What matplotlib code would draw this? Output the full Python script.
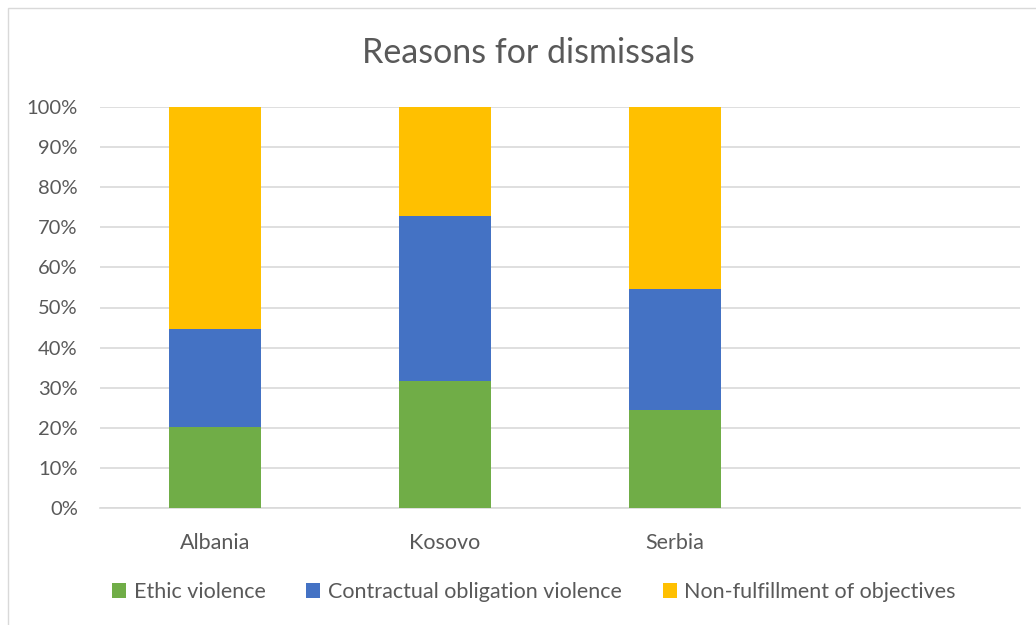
import matplotlib
matplotlib.use("Agg")
import matplotlib.pyplot as plt
from matplotlib.patches import Rectangle
import numpy as np

categories = ["Albania", "Kosovo", "Serbia", ""]
ethic = [20.1, 31.6, 24.4, 0]
contractual = [24.5, 41.3, 30.2, 0]
nonfulfil = [55.4, 27.1, 45.4, 0]
series_names = ["Ethic violence", "Contractual obligation violence", "Non-fulfillment of objectives"]
colors = ["#70AD47", "#4472C4", "#FFC000"]
yticks = [0, 10, 20, 30, 40, 50, 60, 70, 80, 90, 100]

plt.rcParams['font.family'] = ['Lato', 'DejaVu Sans']
fig = plt.figure(figsize=(10.36, 6.25), dpi=100)
ax = fig.add_axes([100/1036, 1-508/625, 920/1036, 401/625])

x = np.arange(len(categories))
bottom = np.zeros(len(categories))
for vals, name, c in zip([ethic, contractual, nonfulfil], series_names, colors):
    ax.bar(x, vals, 0.4, bottom=bottom, color=c, label=name, zorder=3)
    bottom += np.array(vals)

ax.set_xlim(-0.5, len(categories) - 0.5)
ax.set_ylim(0, 100)
ax.set_yticks(yticks)
ax.set_yticklabels([f"{t}%" for t in yticks])
ax.set_xticks(x)
ax.set_xticklabels(categories)
ax.grid(axis='y', color='#D9D9D9', linewidth=1.2, zorder=0)
for s in ['top', 'right', 'left']:
    ax.spines[s].set_visible(False)
ax.spines['bottom'].set_color('#D9D9D9')
ax.spines['bottom'].set_linewidth(1.2)
ax.tick_params(axis='both', length=0, colors='#595959')
ax.tick_params(axis='y', pad=16, labelsize=14.5)
ax.tick_params(axis='x', pad=18, labelsize=15.5)

fig.text(528/1036, 1-53/625, "Reasons for dismissals", ha='center', va='center',
         fontsize=24.5, color='#595959')

leg = fig.legend(loc='center', bbox_to_anchor=(534/1036, 1-592/625), ncol=3, frameon=False,
                 fontsize=15.5, handlelength=0.65, handleheight=0.65, columnspacing=1.9,
                 handletextpad=0.35, labelcolor='#595959')

fig.patches.append(Rectangle((8/1036, -0.05), 1.2, 1-8/625+0.05, transform=fig.transFigure,
                             fill=False, edgecolor='#D9D9D9', linewidth=1))
fig.savefig("out.png", dpi=100, facecolor='white')
